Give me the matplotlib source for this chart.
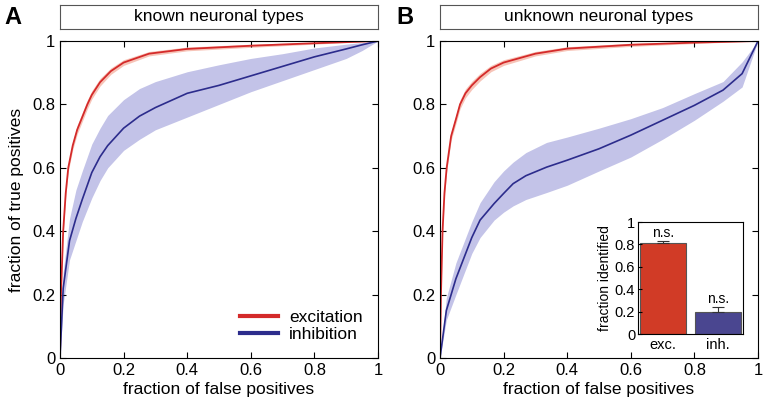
import matplotlib.pyplot as plt
import numpy as np

plt.rcParams['font.family'] = ['Liberation Sans', 'DejaVu Sans']

# --- panel A: known neuronal types ---
a_exc_x = [0, 0.003, 0.01, 0.018, 0.026, 0.04, 0.054, 0.07, 0.086, 0.1, 0.126, 0.16, 0.2, 0.28, 0.4, 0.6, 0.8, 1.0]
a_exc_y = [0, 0.2, 0.4, 0.52, 0.6, 0.67, 0.72, 0.76, 0.8, 0.83, 0.87, 0.905, 0.932, 0.96, 0.975, 0.985, 0.993, 1.0]
a_exc_err = [0, 0.004, 0.008, 0.01, 0.012, 0.013, 0.014, 0.014, 0.014, 0.013, 0.012, 0.01, 0.009, 0.007, 0.006, 0.005, 0.003, 0]

a_inh_x = [0, 0.01, 0.03, 0.05, 0.07, 0.1, 0.126, 0.15, 0.2, 0.25, 0.3, 0.4, 0.5, 0.6, 0.7, 0.8, 0.9, 0.95, 1.0]
a_inh_y = [0, 0.22, 0.37, 0.44, 0.5, 0.585, 0.635, 0.67, 0.725, 0.763, 0.79, 0.835, 0.86, 0.89, 0.92, 0.95, 0.975, 0.988, 1.0]
a_inh_hi = [0, 0.27, 0.44, 0.53, 0.59, 0.675, 0.725, 0.765, 0.815, 0.85, 0.872, 0.903, 0.925, 0.945, 0.96, 0.978, 0.99, 0.995, 1.0]
a_inh_lo = [0, 0.17, 0.31, 0.37, 0.43, 0.505, 0.56, 0.6, 0.655, 0.69, 0.72, 0.76, 0.80, 0.84, 0.875, 0.91, 0.945, 0.97, 1.0]

# --- panel B: unknown neuronal types ---
b_exc_x = [0, 0.003, 0.008, 0.014, 0.021, 0.035, 0.052, 0.063, 0.08, 0.1, 0.126, 0.16, 0.2, 0.3, 0.4, 0.6, 0.8, 1.0]
b_exc_y = [0, 0.2, 0.4, 0.52, 0.6, 0.7, 0.76, 0.8, 0.835, 0.86, 0.886, 0.913, 0.932, 0.96, 0.976, 0.988, 0.995, 1.0]
b_exc_err = [0, 0.004, 0.008, 0.01, 0.012, 0.013, 0.014, 0.014, 0.014, 0.013, 0.012, 0.01, 0.009, 0.007, 0.006, 0.005, 0.003, 0]

b_inh_x = [0, 0.02, 0.05, 0.1, 0.126, 0.17, 0.2, 0.23, 0.27, 0.335, 0.4, 0.5, 0.6, 0.7, 0.8, 0.89, 0.95, 1.0]
b_inh_y = [0, 0.15, 0.25, 0.38, 0.435, 0.487, 0.519, 0.55, 0.575, 0.602, 0.624, 0.66, 0.703, 0.75, 0.797, 0.845, 0.897, 1.0]
b_inh_hi = [0, 0.19, 0.30, 0.43, 0.49, 0.556, 0.59, 0.618, 0.648, 0.68, 0.697, 0.725, 0.755, 0.79, 0.834, 0.872, 0.934, 1.0]
b_inh_lo = [0, 0.12, 0.2, 0.33, 0.38, 0.435, 0.46, 0.48, 0.5, 0.522, 0.545, 0.59, 0.634, 0.69, 0.75, 0.81, 0.855, 1.0]

# --- inset bars ---
bar_labels = ['exc.', 'inh.']
bar_values = [0.81, 0.20]
bar_errors = [0.02, 0.04]

RED = '#d42a2a'
RED_SHADE = '#f7c4b8'
BLUE = '#2c2c8c'
BLUE_SHADE = '#c3c3e8'
W, H = 765, 407

fig = plt.figure(figsize=(W / 100, H / 100), dpi=100)


def px(left, top, right, bottom):
    return [left / W, 1 - bottom / H, (right - left) / W, (bottom - top) / H]


def roc_panel(ax, ex, ey, eerr, ix, iy, ihi, ilo):
    ex, ey, eerr = np.array(ex), np.array(ey), np.array(eerr)
    ax.fill_between(ix, ilo, ihi, color=BLUE_SHADE, lw=0)
    ax.fill_between(ex, ey - eerr, np.minimum(ey + eerr, 1), color=RED_SHADE, lw=0)
    ax.plot(ex, ey, color=RED, lw=1.3, label='excitation')
    ax.plot(ix, iy, color=BLUE, lw=1.2, label='inhibition')
    ax.set_xlim(0, 1)
    ax.set_ylim(0, 1)
    ticks = [0, 0.2, 0.4, 0.6, 0.8, 1]
    labels = ['0', '0.2', '0.4', '0.6', '0.8', '1']
    ax.set_xticks(ticks, labels)
    ax.set_yticks(ticks, labels)
    ax.tick_params(direction='in', top=True, right=True, labelsize=12, length=4, width=0.8)
    ax.set_xlabel('fraction of false positives', fontsize=12.5, labelpad=3)
    for s in ax.spines.values():
        s.set_linewidth(0.8)


def title_box(left, right, text):
    tb = fig.add_axes(px(left, 5, right, 29))
    tb.set_xticks([])
    tb.set_yticks([])
    for s in tb.spines.values():
        s.set_color('#555555')
        s.set_linewidth(0.8)
    tb.text(0.5, 0.5, text, ha='center', va='center', fontsize=12.5, transform=tb.transAxes)


axA = fig.add_axes(px(60, 41, 378, 358))
roc_panel(axA, a_exc_x, a_exc_y, a_exc_err, a_inh_x, a_inh_y, a_inh_hi, a_inh_lo)
axA.set_ylabel('fraction of true positives', fontsize=12.5, labelpad=6)
leg = axA.legend(loc='lower right', frameon=False, fontsize=12.5, handlelength=2.2,
                 handletextpad=0.6, labelspacing=0.15, borderaxespad=0.5)
for line in leg.get_lines():
    line.set_linewidth(3)
title_box(60, 378, 'known neuronal types')

axB = fig.add_axes(px(440, 41, 758, 358))
roc_panel(axB, b_exc_x, b_exc_y, b_exc_err, b_inh_x, b_inh_y, b_inh_hi, b_inh_lo)
title_box(440, 758, 'unknown neuronal types')

fig.text(13 / W, 1 - 17 / H, 'A', fontsize=17, fontweight='bold', ha='center', va='center')
fig.text(405 / W, 1 - 17 / H, 'B', fontsize=17, fontweight='bold', ha='center', va='center')

# inset
axI = fig.add_axes(px(638, 222, 743, 334))
pos = [1, 2]
axI.bar(pos, bar_values, width=0.83, color=['#d13b26', '#4a4690'], edgecolor='#555555', lw=0.8)
axI.errorbar(pos, bar_values, yerr=[[0, 0], bar_errors], fmt='none', ecolor='#333333',
             elinewidth=0.8, capsize=4, capthick=0.8)
for p, v, e in zip(pos, bar_values, bar_errors):
    axI.text(p, v + e + 0.01, 'n.s.', ha='center', va='bottom', fontsize=10)
axI.set_xlim(0.55, 2.45)
axI.set_ylim(0, 1)
axI.set_xticks(pos, bar_labels)
axI.set_yticks([0, 0.2, 0.4, 0.6, 0.8, 1], ['0', '0.2', '0.4', '0.6', '0.8', '1'])
axI.tick_params(axis='x', length=0, labelsize=10.5, pad=3)
axI.tick_params(axis='y', direction='in', length=3, labelsize=10.5, pad=2)
axI.set_ylabel('fraction identified', fontsize=10, labelpad=2)
for s in axI.spines.values():
    s.set_linewidth(0.8)

fig.savefig('out.png', dpi=100)
